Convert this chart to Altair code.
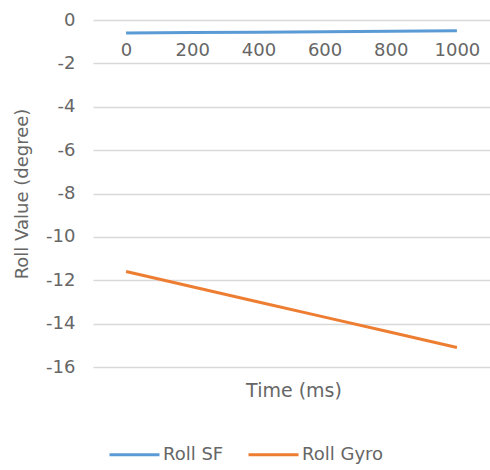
import altair as alt
import pandas as pd

times = ["0", "200", "400", "600", "800", "1000"]
roll_sf = [-0.6, -0.58, -0.56, -0.54, -0.52, -0.5]
roll_gyro = [-11.6, -12.3, -13.0, -13.7, -14.4, -15.1]
series_names = ["Roll SF", "Roll Gyro"]
colors = ["#5B9BD5", "#ED7D31"]
x_title = "Time (ms)"

rows = []
for t, v in zip(times, roll_sf):
    rows.append({"Time": t, "Value": v, "Series": series_names[0]})
for t, v in zip(times, roll_gyro):
    rows.append({"Time": t, "Value": v, "Series": series_names[1]})
df = pd.DataFrame(rows)

FONT = "DejaVu Sans"
GRAY = "#666666"

lines = alt.Chart(df).mark_line(strokeWidth=3).encode(
    x=alt.X("Time:O", sort=times,
            scale=alt.Scale(type="point", padding=0.5),
            axis=alt.Axis(title=None, labelAngle=0, orient="bottom", offset=-347,
                          domain=False, ticks=False, grid=False,
                          labelPadding=21, labelFontSize=18, labelColor=GRAY,
                          labelFont=FONT)),
    y=alt.Y("Value:Q", scale=alt.Scale(domain=[-16, 0]),
            axis=alt.Axis(title="Roll Value (degree)", values=list(range(-16, 1, 2)),
                          labelExpr="toString(datum.value)",
                          domain=False, ticks=False, gridColor="#D9D9D9", gridWidth=1.5,
                          labelPadding=18, labelFontSize=18, labelColor=GRAY, labelFont=FONT,
                          titleFontSize=18, titleColor=GRAY, titleFont=FONT,
                          titleFontWeight="normal", titlePadding=14)),
    color=alt.Color("Series:N", sort=series_names,
                    scale=alt.Scale(domain=series_names, range=colors),
                    legend=alt.Legend(title=None, orient="none", direction="horizontal",
                                      legendX=15, legendY=408,
                                      symbolType="stroke", symbolSize=2500,
                                      symbolStrokeWidth=3, labelFontSize=18,
                                      labelColor=GRAY, labelFont=FONT,
                                      columnPadding=18, labelOffset=2)),
)

title_text = alt.Chart(pd.DataFrame({"t": [x_title]})).mark_text(
    font=FONT, fontSize=19, color=GRAY, align="center", baseline="middle"
).encode(
    text="t:N",
    x=alt.value(201),
    y=alt.value(371),
)

chart = alt.layer(lines, title_text).properties(
    width=397, height=347,
    padding={"left": 93, "top": 20, "right": 0, "bottom": 103},
    autosize=alt.AutoSizeParams(type="none"),
).configure_view(stroke=None)

chart.save("out.html", embed_options={"renderer": "svg", "actions": False})
